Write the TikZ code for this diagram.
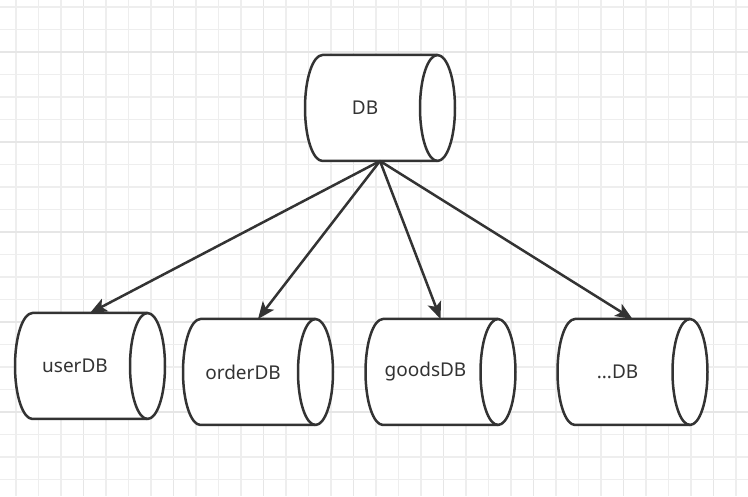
\documentclass[tikz,border=0pt]{standalone}
\usepackage{fontspec}
\setmainfont{Noto Sans}
\usetikzlibrary{arrows.meta}
\definecolor{gridc}{HTML}{EEEEEE}
\definecolor{gridmajor}{HTML}{E6E6E6}
\definecolor{ink}{HTML}{333333}
\tikzset{
  cylbox/.style={draw=none, minimum width=150pt, minimum height=106pt, inner sep=0pt, outer sep=0pt},
  cyl/.style={draw=ink, line width=2.5pt, fill=white, line join=round},
  lbl/.style={text=ink, font=\fontsize{19}{22}\selectfont, inner sep=0pt},
  conn/.style={draw=ink, line width=2.5pt, -{Stealth[length=17pt,width=14pt,inset=4pt]}},
}
\newcommand{\mycyl}[1]{%
  \draw[cyl] ([xshift=17.5pt]#1.north west) -- ([xshift=-17.5pt]#1.north east)
    arc[start angle=90,end angle=-90,x radius=17.5pt,y radius=53pt]
    -- ([xshift=17.5pt]#1.south west)
    arc[start angle=270,end angle=90,x radius=17.5pt,y radius=53pt] -- cycle;
  \draw[cyl, fill=none] ([xshift=-17.5pt]#1.north east)
    arc[start angle=90,end angle=270,x radius=17.5pt,y radius=53pt];
}
\begin{document}
\begin{tikzpicture}[x=1pt,y=1pt]
\useasboundingbox (0,0) rectangle (748,496);
\fill[white] (0,0) rectangle (748,496);
% grid
\foreach \k in {0,...,32} {
  \pgfmathtruncatemacro{\m}{mod(\k,4)}
  \ifnum\m=3 \draw[gridmajor, line width=1.5pt] ({16+22.5*\k},0) -- ({16+22.5*\k},496);
  \else \draw[gridc, line width=1.3pt] ({16+22.5*\k},0) -- ({16+22.5*\k},496); \fi
}
\foreach \k in {0,...,21} {
  \pgfmathtruncatemacro{\m}{mod(\k,4)}
  \ifnum\m=2 \draw[gridmajor, line width=1.5pt] (0,{489-22.5*\k}) -- (748,{489-22.5*\k});
  \else \draw[gridc, line width=1.3pt] (0,{489-22.5*\k}) -- (748,{489-22.5*\k}); \fi
}
% nodes
\node[cylbox] (db) at (380,388) {};
\node[cylbox] (user) at (90,130) {};
\node[cylbox] (order) at (258,124) {};
\node[cylbox] (goods) at (440.5,124) {};
\node[cylbox] (more) at (632.5,124) {};
\mycyl{db}
\mycyl{user}
\mycyl{order}
\mycyl{goods}
\mycyl{more}
\node[lbl] (dbt) at ([xshift=-15pt]db.center) {DB};
\node[lbl] (usert) at ([xshift=-15pt]user.center) {userDB};
\node[lbl] (ordert) at ([xshift=-15pt]order.center) {orderDB};
\node[lbl] (goodst) at ([xshift=-15pt]goods.center) {goodsDB};
\node[lbl] (moret) at ([xshift=-15pt]more.center) {...DB};
% connectors
\draw[conn] (db.south) -- (user.north);
\draw[conn] (db.south) -- (order.north);
\draw[conn] (db.south) -- (goods.north);
\draw[conn] (db.south) -- (more.north);
\end{tikzpicture}
\end{document}
